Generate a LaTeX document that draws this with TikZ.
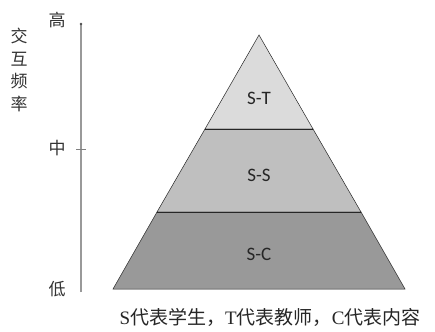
\documentclass[tikz,border=0pt]{standalone}
\usepackage{fontspec}
\setmainfont{Liberation Serif}
\newfontfamily\cjk{Noto Sans CJK SC}
\newfontfamily\lblfont{Carlito}
\usetikzlibrary{arrows.meta}
\begin{document}
\begin{tikzpicture}[x=1pt,y=-1pt,
  band/.style={draw=black!85,line width=0.5pt},
  bandlabel/.style={font=\lblfont\fontsize{19}{19}\selectfont,text=black!85},
  axlabel/.style={font=\cjk\fontsize{17}{17}\selectfont,text=black!80,inner sep=0pt},
  axisline/.style={draw=black!40,line width=1.2pt}]
\useasboundingbox (0,0) rectangle (435,331);
\fill[white] (0,0) rectangle (435,331);
% pyramid points
\coordinate (apex) at (259,35);
\coordinate (bl) at (113,289);
\coordinate (br) at (405,289);
\coordinate (l1) at (205,129);
\coordinate (r1) at (313,129);
\coordinate (l2) at (157,212);
\coordinate (r2) at (361,212);
\filldraw[band,fill=black!14] (apex) -- (r1) -- (l1) -- cycle;
\filldraw[band,fill=black!25] (l1) -- (r1) -- (r2) -- (l2) -- cycle;
\filldraw[band,fill=black!40] (l2) -- (r2) -- (br) -- (bl) -- cycle;
\draw[line width=1pt,black!85] (l1) -- (r1);
\draw[line width=1pt,black!85] (l2) -- (r2);
\node[bandlabel] (st) at (259,98) {S-T};
\node[bandlabel] (ss) at (259,175) {S-S};
\node[bandlabel] (sc) at (259,254) {S-C};
% axis
\coordinate (atop) at (81,24);
\coordinate (abot) at (81,292);
\coordinate (tl) at (76,149);
\coordinate (tr) at (86,149);
\draw[axisline] (abot) -- (atop);
\fill[black!70] (atop) circle (1.3);
\draw[black!50,line width=1pt] (tl) -- (tr);
\node[axlabel] (hi) at (57,20) {高};
\node[axlabel] (mid) at (57,148) {中};
\node[axlabel] (lo) at (57,289) {低};
\node[axlabel,align=center,font=\cjk\fontsize{17}{22.5}\selectfont] (title) at (19,70) {交\\互\\频\\率};
% caption
\node[inner sep=0pt,text=black!85,font=\fontsize{19}{19}\selectfont] (cap) at (270,317)
  {S{\cjk 代表学生，}T{\cjk 代表教师，}C{\cjk 代表内容}};
\end{tikzpicture}
\end{document}
